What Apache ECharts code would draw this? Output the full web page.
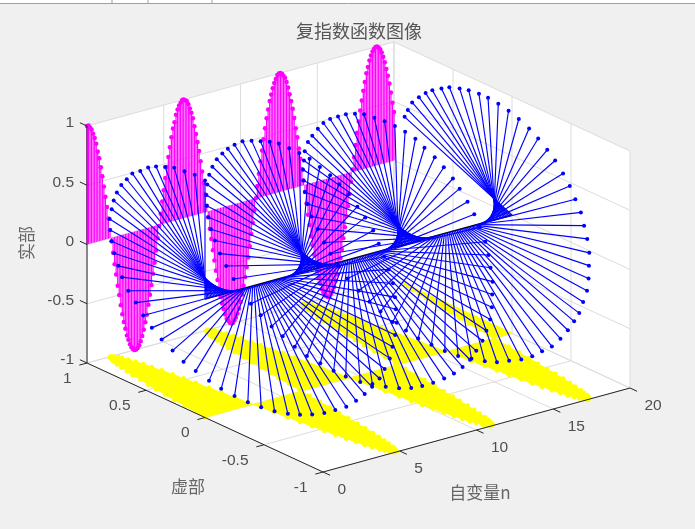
<!DOCTYPE html>
<html lang="en">
<head>
<meta charset="UTF-8">
<title>复指数函数图像</title>
<script src="https://cdn.jsdelivr.net/npm/echarts@6/dist/echarts.min.js"></script>
<style>
html,body{margin:0;padding:0;background:#f0f0f0;}
#chart{width:695px;height:529px;}
</style>
</head>
<body>
<div id="chart"></div>
<script type="text/javascript">
var nValues=[0,0.1,0.2,0.3,0.4,0.5,0.6,0.7,0.8,0.9,1,1.1,1.2,1.3,1.4,1.5,1.6,1.7,1.8,1.9,
2,2.1,2.2,2.3,2.4,2.5,2.6,2.7,2.8,2.9,3,3.1,3.2,3.3,3.4,3.5,3.6,3.7,3.8,3.9,
4,4.1,4.2,4.3,4.4,4.5,4.6,4.7,4.8,4.9,5,5.1,5.2,5.3,5.4,5.5,5.6,5.7,5.8,5.9,
6,6.1,6.2,6.3,6.4,6.5,6.6,6.7,6.8,6.9,7,7.1,7.2,7.3,7.4,7.5,7.6,7.7,7.8,7.9,
8,8.1,8.2,8.3,8.4,8.5,8.6,8.7,8.8,8.9,9,9.1,9.2,9.3,9.4,9.5,9.6,9.7,9.8,9.9,
10,10.1,10.2,10.3,10.4,10.5,10.6,10.7,10.8,10.9,11,11.1,11.2,11.3,11.4,11.5,11.6,11.7,11.8,11.9,
12,12.1,12.2,12.3,12.4,12.5,12.6,12.7,12.8,12.9,13,13.1,13.2,13.3,13.4,13.5,13.6,13.7,13.8,13.9,
14,14.1,14.2,14.3,14.4,14.5,14.6,14.7,14.8,14.9,15,15.1,15.2,15.3,15.4,15.5,15.6,15.7,15.8,15.9,
16,16.1,16.2,16.3,16.4,16.5,16.6,16.7,16.8,16.9,17,17.1,17.2,17.3,17.4,17.5,17.6,17.7,17.8,17.9,
18,18.1,18.2,18.3,18.4,18.5,18.6,18.7,18.8,18.9,19,19.1,19.2,19.3,19.4,19.5,19.6,19.7,19.8,19.9,20];
// 实部
var realValues=[1,1,0.98,0.96,0.92,0.88,0.83,0.76,0.7,0.62,0.54,0.45,0.36,0.27,0.17,0.07,-0.03,-0.13,-0.23,-0.32,
-0.42,-0.5,-0.59,-0.67,-0.74,-0.8,-0.86,-0.9,-0.94,-0.97,-0.99,-1,-1,-0.99,-0.97,-0.94,-0.9,-0.85,-0.79,-0.73,
-0.65,-0.57,-0.49,-0.4,-0.31,-0.21,-0.11,-0.01,0.09,0.19,0.28,0.38,0.47,0.55,0.63,0.71,0.78,0.83,0.89,0.93,
0.96,0.98,1,1,0.99,0.98,0.95,0.91,0.87,0.82,0.75,0.68,0.61,0.53,0.44,0.35,0.25,0.15,0.05,-0.05,
-0.15,-0.24,-0.34,-0.43,-0.52,-0.6,-0.68,-0.75,-0.81,-0.86,-0.91,-0.95,-0.97,-0.99,-1,-1,-0.98,-0.96,-0.93,-0.89,
-0.84,-0.78,-0.71,-0.64,-0.56,-0.48,-0.39,-0.29,-0.2,-0.1,0,0.1,0.2,0.3,0.39,0.48,0.57,0.65,0.72,0.79,
0.84,0.89,0.93,0.96,0.99,1,1,0.99,0.97,0.95,0.91,0.86,0.8,0.74,0.67,0.59,0.5,0.42,0.32,0.23,
0.14,0.04,-0.06,-0.16,-0.26,-0.35,-0.45,-0.53,-0.61,-0.69,-0.76,-0.82,-0.87,-0.92,-0.95,-0.98,-0.99,-1,-1,-0.98,
-0.96,-0.93,-0.88,-0.83,-0.77,-0.7,-0.63,-0.54,-0.45,-0.36,-0.28,-0.18,-0.08,0.02,0.12,0.22,0.32,0.41,0.5,0.58,
0.66,0.73,0.8,0.85,0.9,0.94,0.97,0.99,1,1,0.99,0.97,0.94,0.9,0.85,0.79,0.73,0.66,0.58,0.49,0.41];
// 虚部
var imagValues=[0,0.1,0.2,0.3,0.39,0.48,0.56,0.64,0.72,0.78,0.84,0.89,0.93,0.96,0.99,1,1,0.99,0.97,0.95,
0.91,0.86,0.81,0.75,0.68,0.6,0.52,0.43,0.33,0.24,0.14,0.04,-0.06,-0.16,-0.26,-0.35,-0.44,-0.53,-0.61,-0.69,
-0.76,-0.82,-0.87,-0.92,-0.95,-0.98,-0.99,-1,-1,-0.98,-0.96,-0.93,-0.88,-0.83,-0.77,-0.71,-0.63,-0.55,-0.46,-0.37,
-0.28,-0.18,-0.08,0.02,0.12,0.22,0.31,0.4,0.49,0.58,0.66,0.73,0.79,0.85,0.9,0.94,0.97,0.99,1,1,
0.99,0.97,0.94,0.9,0.85,0.8,0.73,0.66,0.58,0.5,0.41,0.32,0.22,0.12,0.03,-0.08,-0.17,-0.27,-0.37,-0.46,
-0.54,-0.62,-0.7,-0.77,-0.83,-0.88,-0.92,-0.96,-0.98,-1,-1,-0.99,-0.98,-0.95,-0.92,-0.88,-0.82,-0.76,-0.69,-0.61,
-0.54,-0.45,-0.36,-0.26,-0.17,-0.07,0.03,0.13,0.23,0.33,0.42,0.51,0.59,0.67,0.74,0.8,0.86,0.91,0.95,0.97,
0.99,1,1,0.99,0.97,0.93,0.89,0.85,0.79,0.73,0.65,0.57,0.49,0.4,0.3,0.21,0.11,0.01,-0.09,-0.19,
-0.29,-0.38,-0.47,-0.56,-0.64,-0.71,-0.78,-0.84,-0.89,-0.93,-0.96,-0.98,-1,-1,-0.99,-0.98,-0.95,-0.91,-0.87,-0.81,
-0.75,-0.68,-0.6,-0.52,-0.43,-0.34,-0.24,-0.14,-0.04,0.06,0.15,0.25,0.34,0.44,0.52,0.61,0.68,0.75,0.82,0.87,0.91];
var nTicks=[0,5,10,15,20];
var imagTicks=[-1,-0.5,0,0.5,1];
var realTicks=[-1,-0.5,0,0.5,1];

// 三维坐标轴在画面上的位置 (view -37.5,30 的平行投影)
var origin=[323,472], nDir=[307,-84], imDir=[-236,-109], reDir=[0,-237];
function project(n,im,re){
    var a=n/20, b=(im+1)/2, c=(re+1)/2;
    return [origin[0]+a*nDir[0]+b*imDir[0]+c*reDir[0], origin[1]+a*nDir[1]+b*imDir[1]+c*reDir[1]];
}

function segmentSeries(segs,color,width,z){
    return {
        type:'custom', coordinateSystem:'cartesian2d', silent:true, clip:false, z:z,
        data:segs,
        renderItem:function(params,api){
            var p=api.coord(project(api.value(0),api.value(1),api.value(2)));
            var q=api.coord(project(api.value(3),api.value(4),api.value(5)));
            return {type:'line',shape:{x1:p[0],y1:p[1],x2:q[0],y2:q[1]},style:{stroke:color,lineWidth:width,fill:null}};
        }
    };
}
function dotSeries(pts,color,size,z){
    return {type:'scatter',silent:true,clip:false,z:z,symbol:'circle',symbolSize:size,
        itemStyle:{color:color,opacity:1},data:pts,animation:false};
}
function wallSeries(corners){
    return {
        type:'custom', coordinateSystem:'cartesian2d', silent:true, clip:false, z:1,
        data:[[0]],
        renderItem:function(params,api){
            var pts=corners.map(function(c){return api.coord(project(c[0],c[1],c[2]));});
            return {type:'polygon',shape:{points:pts},style:{fill:'#ffffff',stroke:null}};
        }
    };
}
function labelSeries(pts,align,dx,dy){
    return {type:'scatter',silent:true,clip:false,z:20,symbolSize:0,
        data:pts.map(function(p){return {value:p.pos,name:p.text};}),
        label:{show:true,position:'inside',formatter:'{b}',align:align,verticalAlign:'middle',offset:[dx,dy],
            fontFamily:'Liberation Sans',fontSize:15.5,color:'#262626'}};
}

var gridSegs=[], axisSegs=[];
nTicks.forEach(function(t){
    gridSegs.push([t,-1,-1,t,1,-1]);
    gridSegs.push([t,1,-1,t,1,1]);
    axisSegs.push([t,-1,-1,t,-1.06,-1]);
});
imagTicks.forEach(function(t){
    gridSegs.push([0,t,-1,20,t,-1]);
    gridSegs.push([20,t,-1,20,t,1]);
    axisSegs.push([0,t,-1,-0.5,t,-1]);
});
realTicks.forEach(function(t){
    gridSegs.push([0,1,t,20,1,t]);
    gridSegs.push([20,-1,t,20,1,t]);
    axisSegs.push([0,1,t,0,1.06,t]);
});
axisSegs.push([0,1,-1,0,1,1],[0,1,-1,0,-1,-1],[0,-1,-1,20,-1,-1]);

var yellowStems=[], yellowDots=[], pinkStems=[], pinkDots=[], blueStems=[], blueDots=[];
nValues.forEach(function(n,i){
    var re=realValues[i], im=imagValues[i];
    yellowStems.push([n,0,-1,n,im,-1]);
    yellowDots.push(project(n,im,-1));
    pinkStems.push([n,1,0,n,1,re]);
    pinkDots.push(project(n,1,re));
    blueStems.push([n,0,0,n,im,re]);
    blueDots.push(project(n,im,re));
});

var nLabels=nTicks.map(function(t){return {pos:project(t,-1,-1),text:String(t)};});
var imLabels=imagTicks.map(function(t){return {pos:project(0,t,-1),text:String(t)};});
var reLabels=realTicks.map(function(t){return {pos:project(0,1,t),text:String(t)};});

var nameStyle={fontFamily:'Noto Sans CJK SC',fontSize:17,fill:'#666666',align:'center',verticalAlign:'middle'};
var chart=echarts.init(document.getElementById('chart'));
chart.setOption({
    animation:false,
    backgroundColor:'#f0f0f0',
    title:{text:'复指数函数图像',left:354,top:17,textAlign:'center',
        textStyle:{fontFamily:'Noto Sans CJK SC',fontWeight:'normal',fontSize:18,color:'#555555'}},
    grid:{left:0,right:0,top:0,bottom:0},
    xAxis:{type:'value',min:0,max:695,show:false},
    yAxis:{type:'value',min:0,max:529,inverse:true,show:false},
    graphic:[
        {type:'rect',shape:{x:0,y:0,width:695,height:3},style:{fill:'#ffffff'},z:30},
        {type:'line',shape:{x1:0,y1:3.5,x2:695,y2:3.5},style:{stroke:'#a0a0a0',lineWidth:1},z:30},
        {type:'line',shape:{x1:112,y1:0,x2:112,y2:3},style:{stroke:'#a0a0a0',lineWidth:1},z:30},
        {type:'line',shape:{x1:148,y1:0,x2:148,y2:3},style:{stroke:'#a0a0a0',lineWidth:1},z:30},
        {type:'line',shape:{x1:212,y1:0,x2:212,y2:3},style:{stroke:'#a0a0a0',lineWidth:1},z:30},
        {type:'text',x:188,y:487,style:Object.assign({text:'虚部'},nameStyle),z:30},
        {type:'text',x:480,y:493,style:Object.assign({text:'自变量n'},nameStyle),z:30},
        {type:'text',x:27,y:243,rotation:Math.PI/2,style:Object.assign({text:'实部'},nameStyle),z:30}
    ],
    series:[
        wallSeries([[0,-1,-1],[20,-1,-1],[20,1,-1],[0,1,-1]]),
        wallSeries([[0,1,-1],[20,1,-1],[20,1,1],[0,1,1]]),
        wallSeries([[20,-1,-1],[20,1,-1],[20,1,1],[20,-1,1]]),
        segmentSeries(gridSegs,'#dcdcdc',1,2),
        segmentSeries(yellowStems,'#ffff00',1.8,3),
        dotSeries(yellowDots,'#ffff00',4.5,4),
        segmentSeries(pinkStems,'#ff00ff',1.2,5),
        dotSeries(pinkDots,'#ff00ff',4.5,6),
        segmentSeries([[0,0,0,20,0,0]],'#000000',1.3,7),
        segmentSeries(blueStems,'#0000ff',1.15,8),
        dotSeries(blueDots,'#0000ff',4,9),
        segmentSeries(axisSegs,'#262626',1,10),
        labelSeries(nLabels,'left',14.5,17.5),
        labelSeries(imLabels,'right',-15.5,15.5),
        labelSeries(reLabels,'right',-13,-3)
    ]
});
</script>
</body>
</html>
